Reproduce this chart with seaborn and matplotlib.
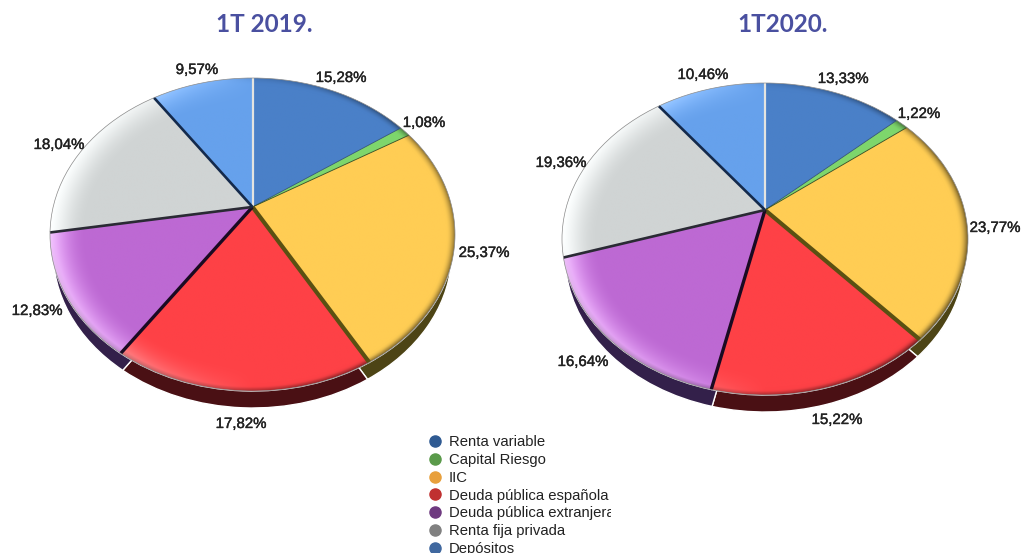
import numpy as np
import matplotlib
matplotlib.use("Agg")
import matplotlib.pyplot as plt
from matplotlib.transforms import Transform, Affine2D, Bbox
from matplotlib.patches import Ellipse
from matplotlib.lines import Line2D
from matplotlib import patheffects as pe
import seaborn as sns

categories = ["Renta variable", "Capital Riesgo", "IIC", "Deuda pública española",
              "Deuda pública extranjera", "Renta fija privada", "Depósitos"]
values_2019 = [15.28, 1.08, 25.37, 17.82, 12.83, 18.04, 9.57]
values_2020 = [13.33, 1.22, 23.77, 15.22, 16.64, 19.36, 10.46]
titles = ["1T 2019.", "1T2020."]

face_colors = ["#4a80c8", "#7ed66c", "#ffcd54", "#fe4146", "#bd69d3", "#d0d4d4", "#66a1ec"]
side_colors = ["#1d3356", "#2d5a25", "#4d4415", "#4a1014", "#33204a", "#55585a", "#27456f"]
legend_colors = ["#2f5a92", "#5a9a4a", "#e8a03c", "#c03030", "#6f3a80", "#808080", "#40689f"]
sep_colors = ["#e4e4e0", "#24406e", "#2f4a20", "#5a5012", "#1a0a22", "#2a2a34", "#142a4c"]
sep_widths = [1.6, 0.5, 0.6, 3.0, 2.4, 1.9, 1.9]

W, H = 1022, 553
sns.set_theme(style="white")
plt.rcParams["font.family"] = ["Liberation Sans", "DejaVu Sans"]
fig = plt.figure(figsize=(W / 100, H / 100), dpi=100, facecolor="white")


class Tilt(Transform):
    """Perspective view of the unit disc: the pie centre moves up by e."""
    input_dims = output_dims = 2

    def __init__(self, e):
        super().__init__()
        self.e = e

    def transform_non_affine(self, xy):
        xy = np.asarray(xy, float)
        d = 1 + self.e * xy[:, 1]
        return np.column_stack((xy[:, 0] * np.sqrt(1 - self.e ** 2) / d,
                                (xy[:, 1] + self.e) / d))

    def inverted(self):
        return Tilt(-self.e)


def shaded(color, n=420):
    u, v = np.meshgrid(np.linspace(-1, 1, n), np.linspace(1, -1, n))
    r = np.sqrt(u ** 2 + v ** 2) + 1e-6
    base = np.array(matplotlib.colors.to_rgb(color))
    img = np.ones((n, n, 3)) * base
    light = np.clip((r - 0.82) / 0.18, 0, 1) ** 2 * np.clip(-u / r, 0, 1)
    dark = np.clip((r - 0.955) / 0.045, 0, 1) ** 2 * np.clip(u / r + 0.15, 0, 1) * 0.5
    low = np.clip((r - 0.975) / 0.025, 0, 1) * np.clip(-v / r, 0, 1) * 0.25
    img = img * (1 + 0.22 * light[..., None])
    img = np.clip(img, 0, 1)
    img = img + (1 - img) * (0.55 * light[..., None])
    img = img * (1 - dark[..., None]) * (1 - low[..., None])
    return np.clip(img, 0, 1)


def draw_pie(values, cx, cy, a, b, e, depth):
    ax = fig.add_axes([(cx - a) / W, 1 - (cy + b) / H, 2 * a / W, 2 * b / H])
    tilt = Tilt(e)
    base = tilt + ax.transData
    # extruded side
    side, _ = ax.pie(values, colors=side_colors, startangle=90, counterclock=False)
    side_tf = tilt + Affine2D().scale(0.985, 1).translate(0, -depth / b) + ax.transData
    for w in side:
        w.set_transform(side_tf)
        w.set_clip_on(False)
        w.set_zorder(1)
    # top face
    top, _ = ax.pie(values, colors=face_colors, startangle=90, counterclock=False)
    for w, c in zip(top, face_colors):
        w.set_transform(base)
        w.set_clip_on(False)
        w.set_zorder(2)
        im = ax.imshow(shaded(c), extent=(-1, 1, -1, 1), aspect="auto", zorder=3)
        im.set_clip_path(w)
    # gaps between slices
    edges = np.r_[0, np.cumsum(values)[:-1]] / np.sum(values) * 2 * np.pi
    for ang, c, lw in zip(edges, sep_colors, sep_widths):
        ax.plot([0, np.sin(ang)], [0, np.cos(ang)], color=c, lw=lw, transform=base,
                zorder=4, solid_capstyle="butt", clip_on=False)
    ax.add_patch(Ellipse((0, 0), 2, 2, fill=False, ec="#8a8a8a", lw=0.5, zorder=5, clip_on=False))
    ax.set_aspect("auto")
    ax.set_xlim(-1, 1)
    ax.set_ylim(-1, 1)
    ax.set_axis_off()
    return ax


draw_pie(values_2019, 252.5, 234.5, 202.5, 156.5, 0.176, 17)
draw_pie(values_2020, 765, 239, 203, 156, 0.186, 17)


def put(x, y, s, **kw):
    return fig.text(x / W, 1 - y / H, s, ha="center", va="center", **kw)


label_xy_2019 = [(341, 78), (424, 123), (484, 253), (241, 424), (37, 311), (59, 145), (197, 70)]
label_xy_2020 = [(843, 79), (919, 114), (995, 228), (837, 420), (583, 362), (561, 163), (703, 75)]
stroke = [pe.withStroke(linewidth=0.3, foreground="#222222")]
for vals, xy in ((values_2019, label_xy_2019), (values_2020, label_xy_2020)):
    for v, (x, y) in zip(vals, xy):
        put(x, y, f"{v:.2f}%".replace(".", ","), fontsize=10.8, color="#222222",
            path_effects=stroke, zorder=10)

for t, x in zip(titles, (264, 783)):
    put(x, 25, t, fontsize=17.5, color="#4a50a0", family="Lato", fontweight="bold", zorder=10)

handles = [Line2D([], [], ls="none", marker="o", ms=8, mfc=c, mec=c) for c in legend_colors]
leg = fig.legend(handles, categories, loc="upper left", bbox_to_anchor=(426 / W, 1 - 435.5 / H),
                 bbox_transform=fig.transFigure, frameon=False, borderpad=0, borderaxespad=0,
                 fontsize=10.7, labelspacing=0.25, handletextpad=0.35, handlelength=1.2,
                 labelcolor="#222222")
for txt in leg.get_texts():
    txt.set_clip_box(Bbox([[0, 0], [611, H]]))
    txt.set_clip_on(True)

fig.savefig("out.png", dpi=100, facecolor="white")
